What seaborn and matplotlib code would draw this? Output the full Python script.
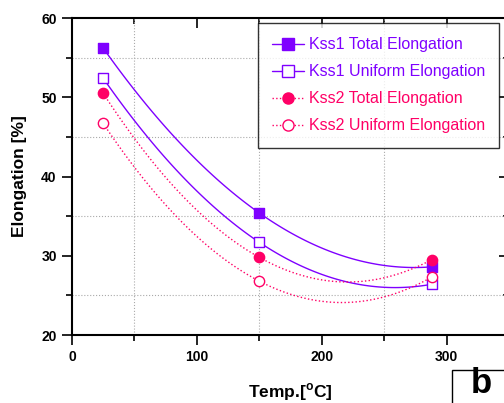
# Elongation vs. test temperature for Kss1 / Kss2 (total and uniform elongation)
import matplotlib.pyplot as plt
from matplotlib.lines import Line2D
from matplotlib.patches import Rectangle
from matplotlib.ticker import MultipleLocator
import seaborn as sns

sns.set_theme(style="white")
plt.rcParams["font.family"] = ["Liberation Sans", "DejaVu Sans"]
plt.rcParams["text.color"] = "black"
plt.rcParams["axes.labelcolor"] = "black"
plt.rcParams["xtick.color"] = "black"
plt.rcParams["ytick.color"] = "black"

# Data
temp = [25, 150, 288]
kss1_total = [56.2, 35.4, 28.6]
kss1_uniform = [52.4, 31.7, 26.4]
kss2_total = [50.5, 29.8, 29.5]
kss2_uniform = [46.7, 26.8, 27.3]

labels = ["Kss1 Total Elongation", "Kss1 Uniform Elongation",
          "Kss2 Total Elongation", "Kss2 Uniform Elongation"]

PURPLE = "#7F00FF"
PINK = "#FF0066"

series = [
    (kss1_total, PURPLE, "s", True, "-"),
    (kss1_uniform, PURPLE, "s", False, "-"),
    (kss2_total, PINK, "o", True, ":"),
    (kss2_uniform, PINK, "o", False, ":"),
]

fig = plt.figure(figsize=(5.04, 4.03), dpi=100)
ax = fig.add_axes([0.1429, 0.1687, 0.867, 0.7866])

handles = []
for (vals, col, mk, filled, ls), lab in zip(series, labels):
    # smooth curve through the three points
    sns.regplot(x=temp, y=vals, order=2, ci=None, scatter=False, ax=ax,
                color=col, line_kws={"lw": 1.0, "ls": ls})
    fc = col if filled else "white"
    sns.scatterplot(x=temp, y=vals, marker=mk, s=55, color=fc,
                    edgecolor=col, linewidth=1.0, ax=ax, zorder=5)
    handles.append(Line2D([], [], color=col, ls=ls, lw=1.0, marker=mk,
                          markersize=8, markerfacecolor=fc,
                          markeredgecolor=col, markeredgewidth=1.0))

ax.set_xlim(0, 350)
ax.set_ylim(20, 60)
ax.xaxis.set_major_locator(MultipleLocator(100))
ax.xaxis.set_minor_locator(MultipleLocator(50))
ax.yaxis.set_major_locator(MultipleLocator(10))
ax.yaxis.set_minor_locator(MultipleLocator(5))

ax.grid(False)
ax.grid(which="minor", color="#aaaaaa", ls=":", lw=0.8)

for s in ax.spines.values():
    s.set_color("black")
    s.set_linewidth(1.5)

ax.tick_params(which="both", direction="out", color="black", width=1.2,
               bottom=True, left=True, top=False, right=False)
ax.tick_params(which="major", length=7, labelsize=10, pad=4)
ax.tick_params(which="minor", length=4)
for t in ax.get_xticklabels() + ax.get_yticklabels():
    t.set_fontweight("bold")

# inward ticks on the top and right edges
top = ax.secondary_xaxis("top")
top.xaxis.set_major_locator(MultipleLocator(100))
top.xaxis.set_minor_locator(MultipleLocator(50))
top.tick_params(which="both", direction="in", color="black", width=1.2,
                labeltop=False)
top.tick_params(which="major", length=7)
top.tick_params(which="minor", length=4)
right = ax.secondary_yaxis("right")
right.yaxis.set_major_locator(MultipleLocator(10))
right.yaxis.set_minor_locator(MultipleLocator(5))
right.tick_params(which="both", direction="in", color="black", width=1.2,
                  labelright=False)
right.tick_params(which="major", length=7)
right.tick_params(which="minor", length=4)

ax.set_xlabel("Temp.[$^\\mathregular{o}$C]", fontsize=12.5, fontweight="bold",
              labelpad=12)
ax.set_ylabel("Elongation [%]", fontsize=12.5, fontweight="bold", labelpad=10)

leg = ax.legend(handles, labels, loc="upper left",
                bbox_to_anchor=(0.425, 0.984), fontsize=11.5, frameon=True,
                fancybox=False, edgecolor="black", handlelength=2.0,
                handletextpad=0.3, labelspacing=0.75, borderpad=0.9,
                borderaxespad=0)
leg.get_frame().set_linewidth(1.0)
for txt, (_, col, _, _, _) in zip(leg.get_texts(), series):
    txt.set_color(col)

# panel tag box in the lower right corner
fig.patches.append(Rectangle((452 / 504, -0.05), 0.2, 0.05 + 33 / 403,
                             transform=fig.transFigure, fc="white",
                             ec="black", lw=1.0))
fig.text(481 / 504, 0.008, "b", fontsize=25, fontweight="bold", ha="center",
         va="bottom")

fig.savefig("out.png", dpi=100)
